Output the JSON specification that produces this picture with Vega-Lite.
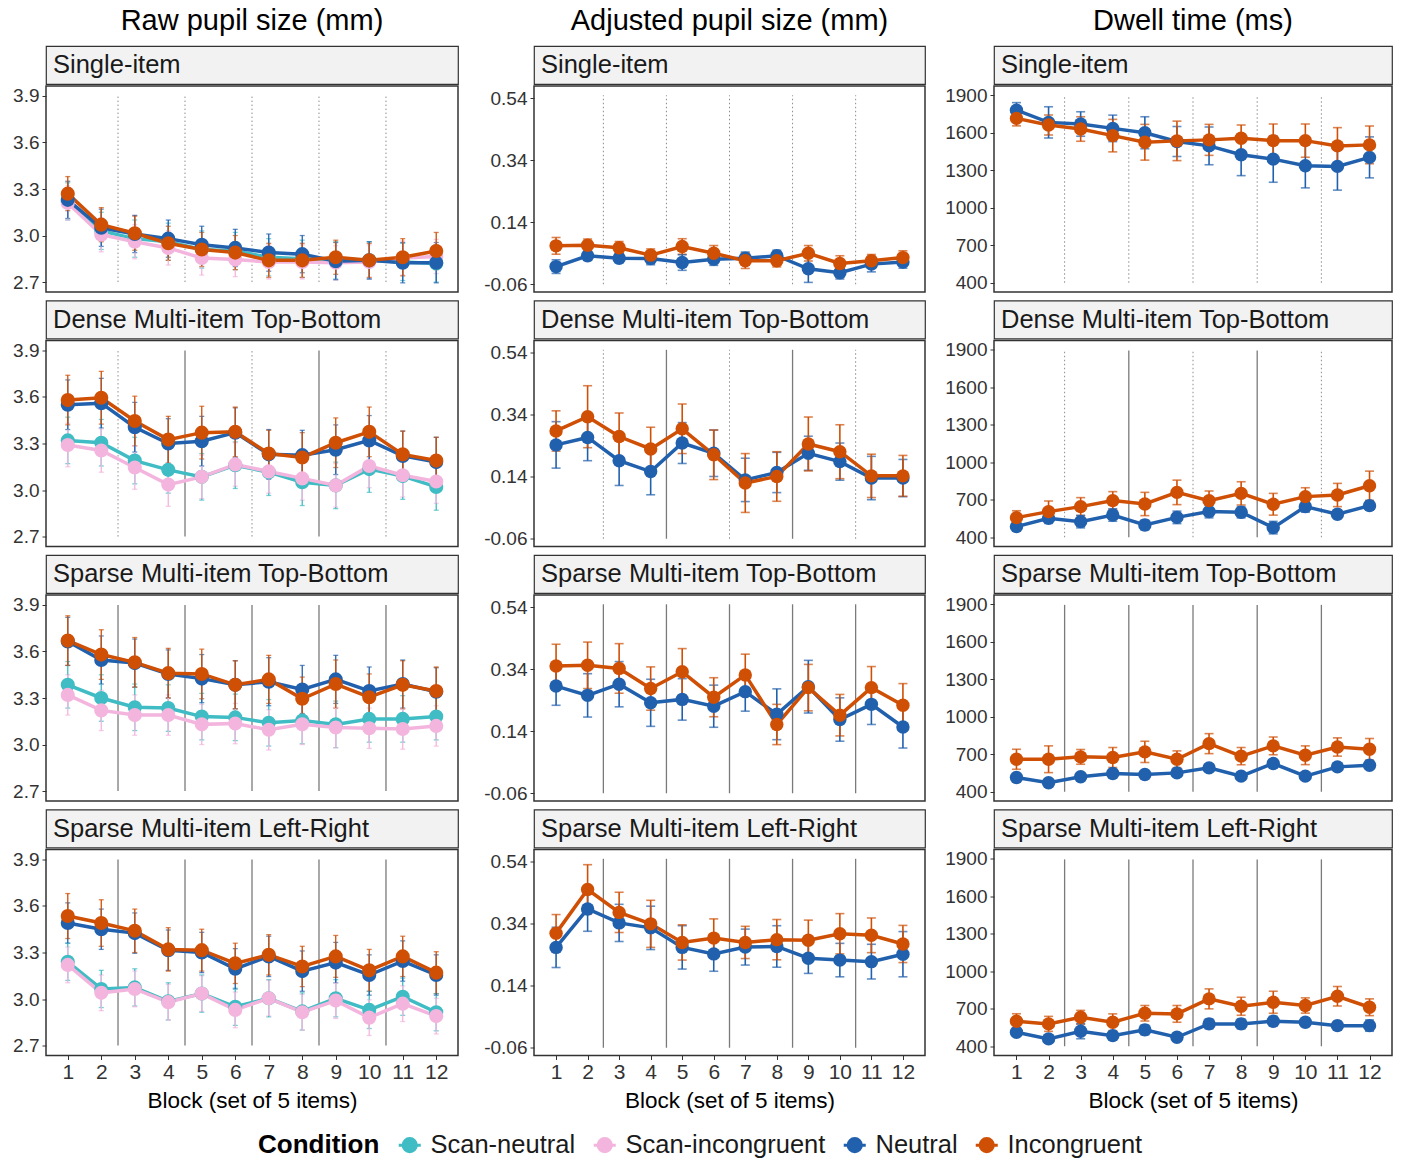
{
"$schema": "https://vega.github.io/schema/vega-lite/v6.json",
"background": "white",
"padding": {"left": 11, "top": 6, "right": 5, "bottom": 0},
"config": {
 "font": "Liberation Sans",
 "view": {"stroke": "#333333", "strokeWidth": 1.5},
 "axis": {"domain": false, "grid": false, "tickColor": "#333333", "tickSize": 4, "labelColor": "#333333", "labelPadding": 3, "titleFontSize": 22.5, "titleFontWeight": "normal", "titleColor": "#000000"},
 "axisY": {"labelFontSize": 19},
 "axisX": {"labelFontSize": 21, "labelPadding": 2},
 "legend": {"direction": "horizontal", "titleOrient": "left", "titleFontSize": 26, "titleFontWeight": "bold", "titleColor": "#000000", "labelFontSize": 25.5, "labelColor": "#1a1a1a", "labelLimit": 0, "symbolType": "M-1,0L1,0M0.6,0A0.6,0.6,0,1,1,-0.6,0A0.6,0.6,0,1,1,0.6,0Z", "symbolSize": 484, "symbolStrokeWidth": 3, "symbolOpacity": 1, "labelOffset": 8, "columnPadding": 11, "titlePadding": 17}
},
"datasets": {
 "vl": [
  {"t":"S","b":2.5,"k":"dot"},{"t":"S","b":4.5,"k":"dot"},{"t":"S","b":6.5,"k":"dot"},{"t":"S","b":8.5,"k":"dot"},{"t":"S","b":10.5,"k":"dot"},
  {"t":"D","b":2.5,"k":"dot"},{"t":"D","b":4.5,"k":"solid"},{"t":"D","b":6.5,"k":"dot"},{"t":"D","b":8.5,"k":"solid"},{"t":"D","b":10.5,"k":"dot"},
  {"t":"ST","b":2.5,"k":"solid"},{"t":"ST","b":4.5,"k":"solid"},{"t":"ST","b":6.5,"k":"solid"},{"t":"ST","b":8.5,"k":"solid"},{"t":"ST","b":10.5,"k":"solid"},
  {"t":"SL","b":2.5,"k":"solid"},{"t":"SL","b":4.5,"k":"solid"},{"t":"SL","b":6.5,"k":"solid"},{"t":"SL","b":8.5,"k":"solid"},{"t":"SL","b":10.5,"k":"solid"}
 ],
 "raw_S": [
  {"c":"Scan-neutral","b":1,"v":3.22,"lo":3.10,"hi":3.34},{"c":"Scan-neutral","b":2,"v":3.03,"lo":2.91,"hi":3.15},{"c":"Scan-neutral","b":3,"v":2.98,"lo":2.86,"hi":3.10},{"c":"Scan-neutral","b":4,"v":2.96,"lo":2.84,"hi":3.08},{"c":"Scan-neutral","b":5,"v":2.91,"lo":2.79,"hi":3.03},{"c":"Scan-neutral","b":6,"v":2.90,"lo":2.78,"hi":3.02},{"c":"Scan-neutral","b":7,"v":2.86,"lo":2.74,"hi":2.98},{"c":"Scan-neutral","b":8,"v":2.85,"lo":2.73,"hi":2.97},{"c":"Scan-neutral","b":9,"v":2.84,"lo":2.72,"hi":2.96},{"c":"Scan-neutral","b":10,"v":2.84,"lo":2.72,"hi":2.96},{"c":"Scan-neutral","b":11,"v":2.83,"lo":2.71,"hi":2.95},{"c":"Scan-neutral","b":12,"v":2.82,"lo":2.70,"hi":2.94},
  {"c":"Scan-incongruent","b":1,"v":3.21,"lo":3.10,"hi":3.32},{"c":"Scan-incongruent","b":2,"v":3.005,"lo":2.895,"hi":3.115},{"c":"Scan-incongruent","b":3,"v":2.96,"lo":2.85,"hi":3.07},{"c":"Scan-incongruent","b":4,"v":2.92,"lo":2.81,"hi":3.03},{"c":"Scan-incongruent","b":5,"v":2.855,"lo":2.745,"hi":2.965},{"c":"Scan-incongruent","b":6,"v":2.845,"lo":2.735,"hi":2.955},{"c":"Scan-incongruent","b":7,"v":2.83,"lo":2.72,"hi":2.94},{"c":"Scan-incongruent","b":8,"v":2.83,"lo":2.72,"hi":2.94},{"c":"Scan-incongruent","b":9,"v":2.825,"lo":2.715,"hi":2.935},{"c":"Scan-incongruent","b":10,"v":2.83,"lo":2.72,"hi":2.94},{"c":"Scan-incongruent","b":11,"v":2.855,"lo":2.745,"hi":2.965},{"c":"Scan-incongruent","b":12,"v":2.865,"lo":2.755,"hi":2.975},
  {"c":"Neutral","b":1,"v":3.23,"lo":3.11,"hi":3.35},{"c":"Neutral","b":2,"v":3.05,"lo":2.93,"hi":3.17},{"c":"Neutral","b":3,"v":3.01,"lo":2.89,"hi":3.13},{"c":"Neutral","b":4,"v":2.98,"lo":2.86,"hi":3.10},{"c":"Neutral","b":5,"v":2.94,"lo":2.82,"hi":3.06},{"c":"Neutral","b":6,"v":2.92,"lo":2.80,"hi":3.04},{"c":"Neutral","b":7,"v":2.89,"lo":2.77,"hi":3.01},{"c":"Neutral","b":8,"v":2.88,"lo":2.76,"hi":3.00},{"c":"Neutral","b":9,"v":2.835,"lo":2.715,"hi":2.955},{"c":"Neutral","b":10,"v":2.84,"lo":2.72,"hi":2.96},{"c":"Neutral","b":11,"v":2.825,"lo":2.695,"hi":2.955},{"c":"Neutral","b":12,"v":2.825,"lo":2.695,"hi":2.955},
  {"c":"Incongruent","b":1,"v":3.27,"lo":3.16,"hi":3.38},{"c":"Incongruent","b":2,"v":3.07,"lo":2.96,"hi":3.18},{"c":"Incongruent","b":3,"v":3.015,"lo":2.905,"hi":3.125},{"c":"Incongruent","b":4,"v":2.95,"lo":2.84,"hi":3.06},{"c":"Incongruent","b":5,"v":2.91,"lo":2.80,"hi":3.02},{"c":"Incongruent","b":6,"v":2.89,"lo":2.78,"hi":3.00},{"c":"Incongruent","b":7,"v":2.84,"lo":2.73,"hi":2.95},{"c":"Incongruent","b":8,"v":2.84,"lo":2.73,"hi":2.95},{"c":"Incongruent","b":9,"v":2.86,"lo":2.75,"hi":2.97},{"c":"Incongruent","b":10,"v":2.84,"lo":2.73,"hi":2.95},{"c":"Incongruent","b":11,"v":2.86,"lo":2.74,"hi":2.98},{"c":"Incongruent","b":12,"v":2.90,"lo":2.78,"hi":3.02}
 ],
 "raw_D": [
  {"c":"Scan-neutral","b":1,"v":3.32,"lo":3.17,"hi":3.47},{"c":"Scan-neutral","b":2,"v":3.305,"lo":3.155,"hi":3.455},{"c":"Scan-neutral","b":3,"v":3.19,"lo":3.04,"hi":3.34},{"c":"Scan-neutral","b":4,"v":3.13,"lo":2.98,"hi":3.28},{"c":"Scan-neutral","b":5,"v":3.085,"lo":2.935,"hi":3.235},{"c":"Scan-neutral","b":6,"v":3.16,"lo":3.01,"hi":3.31},{"c":"Scan-neutral","b":7,"v":3.115,"lo":2.965,"hi":3.265},{"c":"Scan-neutral","b":8,"v":3.05,"lo":2.90,"hi":3.20},{"c":"Scan-neutral","b":9,"v":3.03,"lo":2.88,"hi":3.18},{"c":"Scan-neutral","b":10,"v":3.135,"lo":2.985,"hi":3.285},{"c":"Scan-neutral","b":11,"v":3.09,"lo":2.94,"hi":3.24},{"c":"Scan-neutral","b":12,"v":3.02,"lo":2.87,"hi":3.17},
  {"c":"Scan-incongruent","b":1,"v":3.29,"lo":3.15,"hi":3.43},{"c":"Scan-incongruent","b":2,"v":3.255,"lo":3.115,"hi":3.395},{"c":"Scan-incongruent","b":3,"v":3.145,"lo":3.005,"hi":3.285},{"c":"Scan-incongruent","b":4,"v":3.035,"lo":2.895,"hi":3.175},{"c":"Scan-incongruent","b":5,"v":3.085,"lo":2.945,"hi":3.225},{"c":"Scan-incongruent","b":6,"v":3.165,"lo":3.025,"hi":3.305},{"c":"Scan-incongruent","b":7,"v":3.12,"lo":2.98,"hi":3.26},{"c":"Scan-incongruent","b":8,"v":3.075,"lo":2.935,"hi":3.215},{"c":"Scan-incongruent","b":9,"v":3.03,"lo":2.89,"hi":3.17},{"c":"Scan-incongruent","b":10,"v":3.155,"lo":3.015,"hi":3.295},{"c":"Scan-incongruent","b":11,"v":3.095,"lo":2.955,"hi":3.235},{"c":"Scan-incongruent","b":12,"v":3.055,"lo":2.915,"hi":3.195},
  {"c":"Neutral","b":1,"v":3.55,"lo":3.39,"hi":3.71},{"c":"Neutral","b":2,"v":3.56,"lo":3.40,"hi":3.72},{"c":"Neutral","b":3,"v":3.405,"lo":3.245,"hi":3.565},{"c":"Neutral","b":4,"v":3.30,"lo":3.14,"hi":3.46},{"c":"Neutral","b":5,"v":3.315,"lo":3.155,"hi":3.475},{"c":"Neutral","b":6,"v":3.37,"lo":3.21,"hi":3.53},{"c":"Neutral","b":7,"v":3.23,"lo":3.07,"hi":3.39},{"c":"Neutral","b":8,"v":3.225,"lo":3.065,"hi":3.385},{"c":"Neutral","b":9,"v":3.26,"lo":3.10,"hi":3.42},{"c":"Neutral","b":10,"v":3.32,"lo":3.16,"hi":3.48},{"c":"Neutral","b":11,"v":3.22,"lo":3.06,"hi":3.38},{"c":"Neutral","b":12,"v":3.18,"lo":3.02,"hi":3.34},
  {"c":"Incongruent","b":1,"v":3.58,"lo":3.42,"hi":3.74},{"c":"Incongruent","b":2,"v":3.595,"lo":3.425,"hi":3.765},{"c":"Incongruent","b":3,"v":3.445,"lo":3.285,"hi":3.605},{"c":"Incongruent","b":4,"v":3.325,"lo":3.175,"hi":3.475},{"c":"Incongruent","b":5,"v":3.37,"lo":3.20,"hi":3.54},{"c":"Incongruent","b":6,"v":3.375,"lo":3.215,"hi":3.535},{"c":"Incongruent","b":7,"v":3.235,"lo":3.085,"hi":3.385},{"c":"Incongruent","b":8,"v":3.21,"lo":3.05,"hi":3.37},{"c":"Incongruent","b":9,"v":3.305,"lo":3.145,"hi":3.465},{"c":"Incongruent","b":10,"v":3.375,"lo":3.215,"hi":3.535},{"c":"Incongruent","b":11,"v":3.23,"lo":3.08,"hi":3.38},{"c":"Incongruent","b":12,"v":3.19,"lo":3.04,"hi":3.34}
 ],
 "raw_ST": [
  {"c":"Scan-neutral","b":1,"v":3.385,"lo":3.235,"hi":3.535},{"c":"Scan-neutral","b":2,"v":3.30,"lo":3.15,"hi":3.45},{"c":"Scan-neutral","b":3,"v":3.24,"lo":3.09,"hi":3.39},{"c":"Scan-neutral","b":4,"v":3.235,"lo":3.085,"hi":3.385},{"c":"Scan-neutral","b":5,"v":3.18,"lo":3.03,"hi":3.33},{"c":"Scan-neutral","b":6,"v":3.175,"lo":3.025,"hi":3.325},{"c":"Scan-neutral","b":7,"v":3.14,"lo":2.99,"hi":3.29},{"c":"Scan-neutral","b":8,"v":3.155,"lo":3.005,"hi":3.305},{"c":"Scan-neutral","b":9,"v":3.13,"lo":2.98,"hi":3.28},{"c":"Scan-neutral","b":10,"v":3.165,"lo":3.015,"hi":3.315},{"c":"Scan-neutral","b":11,"v":3.165,"lo":3.015,"hi":3.315},{"c":"Scan-neutral","b":12,"v":3.18,"lo":3.03,"hi":3.33},
  {"c":"Scan-incongruent","b":1,"v":3.32,"lo":3.19,"hi":3.45},{"c":"Scan-incongruent","b":2,"v":3.22,"lo":3.09,"hi":3.35},{"c":"Scan-incongruent","b":3,"v":3.19,"lo":3.06,"hi":3.32},{"c":"Scan-incongruent","b":4,"v":3.19,"lo":3.06,"hi":3.32},{"c":"Scan-incongruent","b":5,"v":3.13,"lo":3.00,"hi":3.26},{"c":"Scan-incongruent","b":6,"v":3.135,"lo":3.005,"hi":3.265},{"c":"Scan-incongruent","b":7,"v":3.095,"lo":2.965,"hi":3.225},{"c":"Scan-incongruent","b":8,"v":3.13,"lo":3.00,"hi":3.26},{"c":"Scan-incongruent","b":9,"v":3.11,"lo":2.98,"hi":3.24},{"c":"Scan-incongruent","b":10,"v":3.105,"lo":2.975,"hi":3.235},{"c":"Scan-incongruent","b":11,"v":3.10,"lo":2.97,"hi":3.23},{"c":"Scan-incongruent","b":12,"v":3.12,"lo":2.99,"hi":3.25},
  {"c":"Neutral","b":1,"v":3.665,"lo":3.51,"hi":3.82},{"c":"Neutral","b":2,"v":3.545,"lo":3.39,"hi":3.70},{"c":"Neutral","b":3,"v":3.525,"lo":3.37,"hi":3.68},{"c":"Neutral","b":4,"v":3.455,"lo":3.30,"hi":3.61},{"c":"Neutral","b":5,"v":3.425,"lo":3.27,"hi":3.58},{"c":"Neutral","b":6,"v":3.385,"lo":3.23,"hi":3.54},{"c":"Neutral","b":7,"v":3.405,"lo":3.25,"hi":3.56},{"c":"Neutral","b":8,"v":3.355,"lo":3.20,"hi":3.51},{"c":"Neutral","b":9,"v":3.42,"lo":3.265,"hi":3.575},{"c":"Neutral","b":10,"v":3.345,"lo":3.19,"hi":3.50},{"c":"Neutral","b":11,"v":3.39,"lo":3.235,"hi":3.545},{"c":"Neutral","b":12,"v":3.34,"lo":3.185,"hi":3.495},
  {"c":"Incongruent","b":1,"v":3.67,"lo":3.51,"hi":3.83},{"c":"Incongruent","b":2,"v":3.58,"lo":3.42,"hi":3.74},{"c":"Incongruent","b":3,"v":3.53,"lo":3.37,"hi":3.69},{"c":"Incongruent","b":4,"v":3.46,"lo":3.30,"hi":3.62},{"c":"Incongruent","b":5,"v":3.455,"lo":3.295,"hi":3.615},{"c":"Incongruent","b":6,"v":3.385,"lo":3.23,"hi":3.54},{"c":"Incongruent","b":7,"v":3.42,"lo":3.265,"hi":3.575},{"c":"Incongruent","b":8,"v":3.295,"lo":3.155,"hi":3.435},{"c":"Incongruent","b":9,"v":3.39,"lo":3.235,"hi":3.545},{"c":"Incongruent","b":10,"v":3.305,"lo":3.155,"hi":3.455},{"c":"Incongruent","b":11,"v":3.385,"lo":3.23,"hi":3.54},{"c":"Incongruent","b":12,"v":3.345,"lo":3.19,"hi":3.50}
 ],
 "raw_SL": [
  {"c":"Scan-neutral","b":1,"v":3.24,"lo":3.12,"hi":3.36},{"c":"Scan-neutral","b":2,"v":3.065,"lo":2.945,"hi":3.185},{"c":"Scan-neutral","b":3,"v":3.075,"lo":2.955,"hi":3.195},{"c":"Scan-neutral","b":4,"v":2.985,"lo":2.865,"hi":3.105},{"c":"Scan-neutral","b":5,"v":3.035,"lo":2.915,"hi":3.155},{"c":"Scan-neutral","b":6,"v":2.95,"lo":2.83,"hi":3.07},{"c":"Scan-neutral","b":7,"v":3.005,"lo":2.885,"hi":3.125},{"c":"Scan-neutral","b":8,"v":2.92,"lo":2.80,"hi":3.04},{"c":"Scan-neutral","b":9,"v":3.005,"lo":2.885,"hi":3.125},{"c":"Scan-neutral","b":10,"v":2.93,"lo":2.81,"hi":3.05},{"c":"Scan-neutral","b":11,"v":3.015,"lo":2.895,"hi":3.135},{"c":"Scan-neutral","b":12,"v":2.915,"lo":2.795,"hi":3.035},
  {"c":"Scan-incongruent","b":1,"v":3.22,"lo":3.105,"hi":3.335},{"c":"Scan-incongruent","b":2,"v":3.04,"lo":2.925,"hi":3.155},{"c":"Scan-incongruent","b":3,"v":3.065,"lo":2.95,"hi":3.18},{"c":"Scan-incongruent","b":4,"v":2.98,"lo":2.865,"hi":3.095},{"c":"Scan-incongruent","b":5,"v":3.035,"lo":2.92,"hi":3.15},{"c":"Scan-incongruent","b":6,"v":2.93,"lo":2.815,"hi":3.045},{"c":"Scan-incongruent","b":7,"v":3.005,"lo":2.89,"hi":3.12},{"c":"Scan-incongruent","b":8,"v":2.915,"lo":2.80,"hi":3.03},{"c":"Scan-incongruent","b":9,"v":2.99,"lo":2.875,"hi":3.105},{"c":"Scan-incongruent","b":10,"v":2.88,"lo":2.765,"hi":2.995},{"c":"Scan-incongruent","b":11,"v":2.97,"lo":2.855,"hi":3.085},{"c":"Scan-incongruent","b":12,"v":2.89,"lo":2.775,"hi":3.005},
  {"c":"Neutral","b":1,"v":3.49,"lo":3.36,"hi":3.62},{"c":"Neutral","b":2,"v":3.45,"lo":3.32,"hi":3.58},{"c":"Neutral","b":3,"v":3.425,"lo":3.295,"hi":3.555},{"c":"Neutral","b":4,"v":3.315,"lo":3.185,"hi":3.445},{"c":"Neutral","b":5,"v":3.30,"lo":3.17,"hi":3.43},{"c":"Neutral","b":6,"v":3.195,"lo":3.065,"hi":3.325},{"c":"Neutral","b":7,"v":3.275,"lo":3.145,"hi":3.405},{"c":"Neutral","b":8,"v":3.18,"lo":3.05,"hi":3.31},{"c":"Neutral","b":9,"v":3.235,"lo":3.105,"hi":3.365},{"c":"Neutral","b":10,"v":3.155,"lo":3.025,"hi":3.285},{"c":"Neutral","b":11,"v":3.245,"lo":3.115,"hi":3.375},{"c":"Neutral","b":12,"v":3.155,"lo":3.025,"hi":3.285},
  {"c":"Incongruent","b":1,"v":3.535,"lo":3.39,"hi":3.68},{"c":"Incongruent","b":2,"v":3.49,"lo":3.34,"hi":3.64},{"c":"Incongruent","b":3,"v":3.44,"lo":3.30,"hi":3.58},{"c":"Incongruent","b":4,"v":3.32,"lo":3.18,"hi":3.46},{"c":"Incongruent","b":5,"v":3.315,"lo":3.18,"hi":3.45},{"c":"Incongruent","b":6,"v":3.23,"lo":3.10,"hi":3.36},{"c":"Incongruent","b":7,"v":3.285,"lo":3.155,"hi":3.415},{"c":"Incongruent","b":8,"v":3.21,"lo":3.08,"hi":3.34},{"c":"Incongruent","b":9,"v":3.275,"lo":3.14,"hi":3.41},{"c":"Incongruent","b":10,"v":3.185,"lo":3.05,"hi":3.32},{"c":"Incongruent","b":11,"v":3.275,"lo":3.145,"hi":3.405},{"c":"Incongruent","b":12,"v":3.17,"lo":3.035,"hi":3.305}
 ],
 "adj_S": [
  {"c":"Neutral","b":1,"v":-0.003,"lo":-0.025,"hi":0.019},{"c":"Neutral","b":2,"v":0.032,"lo":0.017,"hi":0.047},{"c":"Neutral","b":3,"v":0.024,"lo":0.009,"hi":0.039},{"c":"Neutral","b":4,"v":0.023,"lo":0.003,"hi":0.043},{"c":"Neutral","b":5,"v":0.010,"lo":-0.015,"hi":0.035},{"c":"Neutral","b":6,"v":0.021,"lo":0.001,"hi":0.041},{"c":"Neutral","b":7,"v":0.024,"lo":0.004,"hi":0.044},{"c":"Neutral","b":8,"v":0.032,"lo":0.014,"hi":0.050},{"c":"Neutral","b":9,"v":-0.010,"lo":-0.054,"hi":0.034},{"c":"Neutral","b":10,"v":-0.023,"lo":-0.043,"hi":-0.003},{"c":"Neutral","b":11,"v":0.005,"lo":-0.020,"hi":0.030},{"c":"Neutral","b":12,"v":0.012,"lo":-0.008,"hi":0.032},
  {"c":"Incongruent","b":1,"v":0.064,"lo":0.037,"hi":0.091},{"c":"Incongruent","b":2,"v":0.066,"lo":0.046,"hi":0.086},{"c":"Incongruent","b":3,"v":0.058,"lo":0.038,"hi":0.078},{"c":"Incongruent","b":4,"v":0.034,"lo":0.014,"hi":0.054},{"c":"Incongruent","b":5,"v":0.062,"lo":0.037,"hi":0.087},{"c":"Incongruent","b":6,"v":0.040,"lo":0.015,"hi":0.065},{"c":"Incongruent","b":7,"v":0.016,"lo":-0.009,"hi":0.041},{"c":"Incongruent","b":8,"v":0.016,"lo":-0.004,"hi":0.036},{"c":"Incongruent","b":9,"v":0.040,"lo":0.015,"hi":0.065},{"c":"Incongruent","b":10,"v":0.007,"lo":-0.018,"hi":0.032},{"c":"Incongruent","b":11,"v":0.016,"lo":-0.004,"hi":0.036},{"c":"Incongruent","b":12,"v":0.026,"lo":0.004,"hi":0.048}
 ],
 "adj_D": [
  {"c":"Neutral","b":1,"v":0.243,"lo":0.168,"hi":0.318},{"c":"Neutral","b":2,"v":0.267,"lo":0.192,"hi":0.342},{"c":"Neutral","b":3,"v":0.192,"lo":0.112,"hi":0.272},{"c":"Neutral","b":4,"v":0.157,"lo":0.082,"hi":0.232},{"c":"Neutral","b":5,"v":0.249,"lo":0.183,"hi":0.315},{"c":"Neutral","b":6,"v":0.216,"lo":0.141,"hi":0.291},{"c":"Neutral","b":7,"v":0.130,"lo":0.060,"hi":0.200},{"c":"Neutral","b":8,"v":0.154,"lo":0.089,"hi":0.219},{"c":"Neutral","b":9,"v":0.216,"lo":0.161,"hi":0.271},{"c":"Neutral","b":10,"v":0.189,"lo":0.129,"hi":0.249},{"c":"Neutral","b":11,"v":0.136,"lo":0.066,"hi":0.206},{"c":"Neutral","b":12,"v":0.136,"lo":0.076,"hi":0.196},
  {"c":"Incongruent","b":1,"v":0.288,"lo":0.223,"hi":0.353},{"c":"Incongruent","b":2,"v":0.334,"lo":0.234,"hi":0.434},{"c":"Incongruent","b":3,"v":0.270,"lo":0.194,"hi":0.346},{"c":"Incongruent","b":4,"v":0.230,"lo":0.160,"hi":0.300},{"c":"Incongruent","b":5,"v":0.295,"lo":0.215,"hi":0.375},{"c":"Incongruent","b":6,"v":0.211,"lo":0.131,"hi":0.291},{"c":"Incongruent","b":7,"v":0.120,"lo":0.025,"hi":0.215},{"c":"Incongruent","b":8,"v":0.141,"lo":0.061,"hi":0.221},{"c":"Incongruent","b":9,"v":0.246,"lo":0.159,"hi":0.333},{"c":"Incongruent","b":10,"v":0.221,"lo":0.134,"hi":0.308},{"c":"Incongruent","b":11,"v":0.143,"lo":0.073,"hi":0.213},{"c":"Incongruent","b":12,"v":0.143,"lo":0.077,"hi":0.209}
 ],
 "adj_ST": [
  {"c":"Neutral","b":1,"v":0.286,"lo":0.224,"hi":0.348},{"c":"Neutral","b":2,"v":0.256,"lo":0.186,"hi":0.326},{"c":"Neutral","b":3,"v":0.292,"lo":0.219,"hi":0.365},{"c":"Neutral","b":4,"v":0.232,"lo":0.156,"hi":0.308},{"c":"Neutral","b":5,"v":0.243,"lo":0.176,"hi":0.310},{"c":"Neutral","b":6,"v":0.221,"lo":0.153,"hi":0.289},{"c":"Neutral","b":7,"v":0.268,"lo":0.205,"hi":0.331},{"c":"Neutral","b":8,"v":0.195,"lo":0.113,"hi":0.277},{"c":"Neutral","b":9,"v":0.284,"lo":0.199,"hi":0.369},{"c":"Neutral","b":10,"v":0.178,"lo":0.108,"hi":0.248},{"c":"Neutral","b":11,"v":0.227,"lo":0.162,"hi":0.292},{"c":"Neutral","b":12,"v":0.154,"lo":0.086,"hi":0.222},
  {"c":"Incongruent","b":1,"v":0.351,"lo":0.281,"hi":0.421},{"c":"Incongruent","b":2,"v":0.353,"lo":0.278,"hi":0.428},{"c":"Incongruent","b":3,"v":0.343,"lo":0.263,"hi":0.423},{"c":"Incongruent","b":4,"v":0.278,"lo":0.208,"hi":0.348},{"c":"Incongruent","b":5,"v":0.332,"lo":0.257,"hi":0.407},{"c":"Incongruent","b":6,"v":0.250,"lo":0.187,"hi":0.313},{"c":"Incongruent","b":7,"v":0.322,"lo":0.255,"hi":0.389},{"c":"Incongruent","b":8,"v":0.162,"lo":0.097,"hi":0.227},{"c":"Incongruent","b":9,"v":0.281,"lo":0.206,"hi":0.356},{"c":"Incongruent","b":10,"v":0.192,"lo":0.125,"hi":0.259},{"c":"Incongruent","b":11,"v":0.281,"lo":0.213,"hi":0.349},{"c":"Incongruent","b":12,"v":0.224,"lo":0.154,"hi":0.294}
 ],
 "adj_SL": [
  {"c":"Neutral","b":1,"v":0.264,"lo":0.199,"hi":0.329},{"c":"Neutral","b":2,"v":0.388,"lo":0.316,"hi":0.460},{"c":"Neutral","b":3,"v":0.343,"lo":0.283,"hi":0.403},{"c":"Neutral","b":4,"v":0.327,"lo":0.257,"hi":0.397},{"c":"Neutral","b":5,"v":0.264,"lo":0.194,"hi":0.334},{"c":"Neutral","b":6,"v":0.243,"lo":0.187,"hi":0.299},{"c":"Neutral","b":7,"v":0.265,"lo":0.207,"hi":0.323},{"c":"Neutral","b":8,"v":0.267,"lo":0.200,"hi":0.334},{"c":"Neutral","b":9,"v":0.229,"lo":0.180,"hi":0.278},{"c":"Neutral","b":10,"v":0.223,"lo":0.169,"hi":0.277},{"c":"Neutral","b":11,"v":0.218,"lo":0.162,"hi":0.274},{"c":"Neutral","b":12,"v":0.242,"lo":0.169,"hi":0.315},
  {"c":"Incongruent","b":1,"v":0.310,"lo":0.250,"hi":0.370},{"c":"Incongruent","b":2,"v":0.451,"lo":0.371,"hi":0.531},{"c":"Incongruent","b":3,"v":0.377,"lo":0.312,"hi":0.442},{"c":"Incongruent","b":4,"v":0.340,"lo":0.264,"hi":0.416},{"c":"Incongruent","b":5,"v":0.280,"lo":0.223,"hi":0.337},{"c":"Incongruent","b":6,"v":0.294,"lo":0.232,"hi":0.356},{"c":"Incongruent","b":7,"v":0.280,"lo":0.228,"hi":0.332},{"c":"Incongruent","b":8,"v":0.289,"lo":0.224,"hi":0.354},{"c":"Incongruent","b":9,"v":0.287,"lo":0.222,"hi":0.352},{"c":"Incongruent","b":10,"v":0.308,"lo":0.243,"hi":0.373},{"c":"Incongruent","b":11,"v":0.303,"lo":0.247,"hi":0.359},{"c":"Incongruent","b":12,"v":0.275,"lo":0.215,"hi":0.335}
 ],
 "dw_S": [
  {"c":"Neutral","b":1,"v":1781,"lo":1721,"hi":1841},{"c":"Neutral","b":2,"v":1683,"lo":1558,"hi":1808},{"c":"Neutral","b":3,"v":1670,"lo":1572,"hi":1768},{"c":"Neutral","b":4,"v":1635,"lo":1529,"hi":1741},{"c":"Neutral","b":5,"v":1600,"lo":1472,"hi":1728},{"c":"Neutral","b":6,"v":1530,"lo":1410,"hi":1650},{"c":"Neutral","b":7,"v":1495,"lo":1344,"hi":1646},{"c":"Neutral","b":8,"v":1424,"lo":1257,"hi":1591},{"c":"Neutral","b":9,"v":1389,"lo":1204,"hi":1574},{"c":"Neutral","b":10,"v":1336,"lo":1159,"hi":1513},{"c":"Neutral","b":11,"v":1331,"lo":1141,"hi":1521},{"c":"Neutral","b":12,"v":1403,"lo":1239,"hi":1567},
  {"c":"Incongruent","b":1,"v":1715,"lo":1655,"hi":1775},{"c":"Incongruent","b":2,"v":1662,"lo":1582,"hi":1742},{"c":"Incongruent","b":3,"v":1630,"lo":1532,"hi":1728},{"c":"Incongruent","b":4,"v":1577,"lo":1447,"hi":1707},{"c":"Incongruent","b":5,"v":1524,"lo":1381,"hi":1667},{"c":"Incongruent","b":6,"v":1535,"lo":1377,"hi":1693},{"c":"Incongruent","b":7,"v":1543,"lo":1419,"hi":1667},{"c":"Incongruent","b":8,"v":1556,"lo":1450,"hi":1662},{"c":"Incongruent","b":9,"v":1537,"lo":1404,"hi":1670},{"c":"Incongruent","b":10,"v":1537,"lo":1404,"hi":1670},{"c":"Incongruent","b":11,"v":1495,"lo":1349,"hi":1641},{"c":"Incongruent","b":12,"v":1503,"lo":1352,"hi":1654}
 ],
 "dw_D": [
  {"c":"Neutral","b":1,"v":485,"lo":455,"hi":515},{"c":"Neutral","b":2,"v":551,"lo":511,"hi":591},{"c":"Neutral","b":3,"v":525,"lo":475,"hi":575},{"c":"Neutral","b":4,"v":578,"lo":528,"hi":628},{"c":"Neutral","b":5,"v":498,"lo":458,"hi":538},{"c":"Neutral","b":6,"v":559,"lo":509,"hi":609},{"c":"Neutral","b":7,"v":605,"lo":555,"hi":655},{"c":"Neutral","b":8,"v":600,"lo":555,"hi":645},{"c":"Neutral","b":9,"v":477,"lo":427,"hi":527},{"c":"Neutral","b":10,"v":645,"lo":600,"hi":690},{"c":"Neutral","b":11,"v":584,"lo":549,"hi":619},{"c":"Neutral","b":12,"v":653,"lo":618,"hi":688},
  {"c":"Incongruent","b":1,"v":557,"lo":502,"hi":612},{"c":"Incongruent","b":2,"v":605,"lo":520,"hi":690},{"c":"Incongruent","b":3,"v":645,"lo":573,"hi":717},{"c":"Incongruent","b":4,"v":693,"lo":621,"hi":765},{"c":"Incongruent","b":5,"v":666,"lo":573,"hi":759},{"c":"Incongruent","b":6,"v":759,"lo":661,"hi":857},{"c":"Incongruent","b":7,"v":693,"lo":616,"hi":770},{"c":"Incongruent","b":8,"v":751,"lo":658,"hi":844},{"c":"Incongruent","b":9,"v":664,"lo":577,"hi":751},{"c":"Incongruent","b":10,"v":725,"lo":654,"hi":796},{"c":"Incongruent","b":11,"v":738,"lo":645,"hi":831},{"c":"Incongruent","b":12,"v":812,"lo":695,"hi":929}
 ],
 "dw_ST": [
  {"c":"Neutral","b":1,"v":514,"lo":489,"hi":539},{"c":"Neutral","b":2,"v":472,"lo":447,"hi":497},{"c":"Neutral","b":3,"v":520,"lo":495,"hi":545},{"c":"Neutral","b":4,"v":546,"lo":521,"hi":571},{"c":"Neutral","b":5,"v":538,"lo":513,"hi":563},{"c":"Neutral","b":6,"v":551,"lo":526,"hi":576},{"c":"Neutral","b":7,"v":591,"lo":566,"hi":616},{"c":"Neutral","b":8,"v":525,"lo":500,"hi":550},{"c":"Neutral","b":9,"v":626,"lo":601,"hi":651},{"c":"Neutral","b":10,"v":525,"lo":500,"hi":550},{"c":"Neutral","b":11,"v":599,"lo":574,"hi":624},{"c":"Neutral","b":12,"v":612,"lo":587,"hi":637},
  {"c":"Incongruent","b":1,"v":660,"lo":580,"hi":740},{"c":"Incongruent","b":2,"v":660,"lo":553,"hi":767},{"c":"Incongruent","b":3,"v":679,"lo":620,"hi":738},{"c":"Incongruent","b":4,"v":674,"lo":594,"hi":754},{"c":"Incongruent","b":5,"v":719,"lo":634,"hi":804},{"c":"Incongruent","b":6,"v":660,"lo":593,"hi":727},{"c":"Incongruent","b":7,"v":785,"lo":705,"hi":865},{"c":"Incongruent","b":8,"v":685,"lo":616,"hi":754},{"c":"Incongruent","b":9,"v":767,"lo":696,"hi":838},{"c":"Incongruent","b":10,"v":692,"lo":617,"hi":767},{"c":"Incongruent","b":11,"v":758,"lo":685,"hi":831},{"c":"Incongruent","b":12,"v":740,"lo":654,"hi":826}
 ],
 "dw_SL": [
  {"c":"Neutral","b":1,"v":512,"lo":482,"hi":542},{"c":"Neutral","b":2,"v":459,"lo":429,"hi":489},{"c":"Neutral","b":3,"v":520,"lo":460,"hi":580},{"c":"Neutral","b":4,"v":485,"lo":455,"hi":515},{"c":"Neutral","b":5,"v":531,"lo":491,"hi":571},{"c":"Neutral","b":6,"v":472,"lo":442,"hi":502},{"c":"Neutral","b":7,"v":579,"lo":539,"hi":619},{"c":"Neutral","b":8,"v":579,"lo":539,"hi":619},{"c":"Neutral","b":9,"v":600,"lo":560,"hi":640},{"c":"Neutral","b":10,"v":592,"lo":557,"hi":627},{"c":"Neutral","b":11,"v":565,"lo":530,"hi":600},{"c":"Neutral","b":12,"v":565,"lo":520,"hi":610},
  {"c":"Incongruent","b":1,"v":600,"lo":540,"hi":660},{"c":"Incongruent","b":2,"v":579,"lo":519,"hi":639},{"c":"Incongruent","b":3,"v":632,"lo":577,"hi":687},{"c":"Incongruent","b":4,"v":592,"lo":525,"hi":659},{"c":"Incongruent","b":5,"v":664,"lo":602,"hi":726},{"c":"Incongruent","b":6,"v":659,"lo":592,"hi":726},{"c":"Incongruent","b":7,"v":779,"lo":699,"hi":859},{"c":"Incongruent","b":8,"v":720,"lo":648,"hi":792},{"c":"Incongruent","b":9,"v":752,"lo":664,"hi":840},{"c":"Incongruent","b":10,"v":726,"lo":665,"hi":787},{"c":"Incongruent","b":11,"v":800,"lo":722,"hi":878},{"c":"Incongruent","b":12,"v":712,"lo":645,"hi":779}
 ]
},
"spacing": 3.5,
"vconcat": [
 {"spacing": 23, "hconcat": [
  {"vconcat": [
   {"width": 412, "height": 38, "title": {"text": "Raw pupil size (mm)", "fontSize": 29, "fontWeight": "normal", "anchor": "middle", "offset": 10, "color": "#000000"}, "view": {"fill": "#f2f2f2", "stroke": "#333333", "strokeWidth": 1.2}, "data": {"values": [{"lab": "Single-item"}]}, "mark": {"type": "text", "align": "left", "baseline": "middle", "fontSize": 25.5, "color": "#1a1a1a"}, "encoding": {"text": {"field": "lab"}, "x": {"value": 7}, "y": {"value": 19}}},
   {"width": 412, "height": 206,
    "encoding": {"x": {"field": "b", "type": "quantitative", "scale": {"domain": [0.35, 12.65], "nice": false, "zero": false}, "axis": null}},
    "layer": [
     {"data": {"name": "vl"}, "transform": [{"filter": "datum.t=='S' && datum.k=='dot'"}], "mark": {"type": "rule", "color": "#8c8c8c", "strokeWidth": 1, "strokeDash": [1.5, 2.5]}, "encoding": {"y": {"datum": 2.7, "type": "quantitative", "scale": {"domain": [2.636, 3.964], "nice": false, "zero": false}}, "y2": {"datum": 3.9}}},
     {"data": {"name": "raw_S"}, "mark": {"type": "errorbar", "ticks": {"size": 5}, "thickness": 1.3}, "encoding": {"y": {"field": "lo", "type": "quantitative", "scale": {"domain": [2.636, 3.964], "nice": false, "zero": false}, "axis": {"title": null, "values": [2.7, 3.0, 3.3, 3.6, 3.9], "format": ".1f"}}, "y2": {"field": "hi"}, "color": {"field": "c", "type": "nominal", "title": "Condition", "scale": {"domain": ["Scan-neutral", "Scan-incongruent", "Neutral", "Incongruent"], "range": ["#3fbcc4", "#f3b5dd", "#2160ad", "#cf4f05"]}, "legend": {"orient": "none", "direction": "horizontal", "legendX": 212, "legendY": 1086}}}},
     {"data": {"name": "raw_S"}, "mark": {"type": "line", "strokeWidth": 3.5}, "encoding": {"y": {"field": "v", "type": "quantitative", "scale": {"domain": [2.636, 3.964], "nice": false, "zero": false}, "axis": {"title": null}}, "color": {"field": "c", "type": "nominal", "title": "Condition", "scale": {"domain": ["Scan-neutral", "Scan-incongruent", "Neutral", "Incongruent"], "range": ["#3fbcc4", "#f3b5dd", "#2160ad", "#cf4f05"]}}}},
     {"data": {"name": "raw_S"}, "mark": {"type": "circle", "size": 200, "opacity": 1}, "encoding": {"y": {"field": "v", "type": "quantitative", "scale": {"domain": [2.636, 3.964], "nice": false, "zero": false}, "axis": {"title": null}}, "color": {"field": "c", "type": "nominal", "title": "Condition", "scale": {"domain": ["Scan-neutral", "Scan-incongruent", "Neutral", "Incongruent"], "range": ["#3fbcc4", "#f3b5dd", "#2160ad", "#cf4f05"]}}}}
    ]}
  ], "spacing": 0},
  {"spacing": 17, "hconcat": [
   {"vconcat": [
    {"width": 391, "height": 38, "title": {"text": "Adjusted pupil size (mm)", "fontSize": 29, "fontWeight": "normal", "anchor": "middle", "offset": 10, "color": "#000000"}, "view": {"fill": "#f2f2f2", "stroke": "#333333", "strokeWidth": 1.2}, "data": {"values": [{"lab": "Single-item"}]}, "mark": {"type": "text", "align": "left", "baseline": "middle", "fontSize": 25.5, "color": "#1a1a1a"}, "encoding": {"text": {"field": "lab"}, "x": {"value": 7}, "y": {"value": 19}}},
    {"width": 391, "height": 206,
     "encoding": {"x": {"field": "b", "type": "quantitative", "scale": {"domain": [0.3, 12.7], "nice": false, "zero": false}, "axis": null}},
     "layer": [
      {"data": {"name": "vl"}, "transform": [{"filter": "datum.t=='S' && datum.k=='dot'"}], "mark": {"type": "rule", "color": "#8c8c8c", "strokeWidth": 1, "strokeDash": [1.5, 2.5]}, "encoding": {"y": {"datum": -0.06, "type": "quantitative", "scale": {"domain": [-0.085, 0.58], "nice": false, "zero": false}}, "y2": {"datum": 0.55}}},
      {"data": {"name": "adj_S"}, "mark": {"type": "errorbar", "ticks": {"size": 9}, "thickness": 1.6}, "encoding": {"y": {"field": "lo", "type": "quantitative", "scale": {"domain": [-0.085, 0.58], "nice": false, "zero": false}, "axis": {"title": null, "values": [-0.06, 0.14, 0.34, 0.54], "labelExpr": "replace(format(datum.value, '.2f'), '\u2212', '-')"}}, "y2": {"field": "hi"}, "color": {"field": "c", "type": "nominal", "title": "Condition", "scale": {"domain": ["Scan-neutral", "Scan-incongruent", "Neutral", "Incongruent"], "range": ["#3fbcc4", "#f3b5dd", "#2160ad", "#cf4f05"]}}}},
      {"data": {"name": "adj_S"}, "mark": {"type": "line", "strokeWidth": 3.5}, "encoding": {"y": {"field": "v", "type": "quantitative", "scale": {"domain": [-0.085, 0.58], "nice": false, "zero": false}, "axis": {"title": null}}, "color": {"field": "c", "type": "nominal", "title": "Condition", "scale": {"domain": ["Scan-neutral", "Scan-incongruent", "Neutral", "Incongruent"], "range": ["#3fbcc4", "#f3b5dd", "#2160ad", "#cf4f05"]}}}},
      {"data": {"name": "adj_S"}, "mark": {"type": "circle", "size": 180, "opacity": 1}, "encoding": {"y": {"field": "v", "type": "quantitative", "scale": {"domain": [-0.085, 0.58], "nice": false, "zero": false}, "axis": {"title": null}}, "color": {"field": "c", "type": "nominal", "title": "Condition", "scale": {"domain": ["Scan-neutral", "Scan-incongruent", "Neutral", "Incongruent"], "range": ["#3fbcc4", "#f3b5dd", "#2160ad", "#cf4f05"]}}}}
     ]}
   ], "spacing": 0},
   {"vconcat": [
    {"width": 398, "height": 38, "title": {"text": "Dwell time (ms)", "fontSize": 29, "fontWeight": "normal", "anchor": "middle", "offset": 10, "color": "#000000"}, "view": {"fill": "#f2f2f2", "stroke": "#333333", "strokeWidth": 1.2}, "data": {"values": [{"lab": "Single-item"}]}, "mark": {"type": "text", "align": "left", "baseline": "middle", "fontSize": 25.5, "color": "#1a1a1a"}, "encoding": {"text": {"field": "lab"}, "x": {"value": 7}, "y": {"value": 19}}},
    {"width": 398, "height": 206,
     "encoding": {"x": {"field": "b", "type": "quantitative", "scale": {"domain": [0.3, 12.7], "nice": false, "zero": false}, "axis": null}},
     "layer": [
      {"data": {"name": "vl"}, "transform": [{"filter": "datum.t=='S' && datum.k=='dot'"}], "mark": {"type": "rule", "color": "#8c8c8c", "strokeWidth": 1, "strokeDash": [1.5, 2.5]}, "encoding": {"y": {"datum": 400, "type": "quantitative", "scale": {"domain": [326, 1974], "nice": false, "zero": false}}, "y2": {"datum": 1895}}},
      {"data": {"name": "dw_S"}, "mark": {"type": "errorbar", "ticks": {"size": 9}, "thickness": 1.6}, "encoding": {"y": {"field": "lo", "type": "quantitative", "scale": {"domain": [326, 1974], "nice": false, "zero": false}, "axis": {"title": null, "values": [400, 700, 1000, 1300, 1600, 1900], "format": "d"}}, "y2": {"field": "hi"}, "color": {"field": "c", "type": "nominal", "title": "Condition", "scale": {"domain": ["Scan-neutral", "Scan-incongruent", "Neutral", "Incongruent"], "range": ["#3fbcc4", "#f3b5dd", "#2160ad", "#cf4f05"]}}}},
      {"data": {"name": "dw_S"}, "mark": {"type": "line", "strokeWidth": 3.5}, "encoding": {"y": {"field": "v", "type": "quantitative", "scale": {"domain": [326, 1974], "nice": false, "zero": false}, "axis": {"title": null}}, "color": {"field": "c", "type": "nominal", "title": "Condition", "scale": {"domain": ["Scan-neutral", "Scan-incongruent", "Neutral", "Incongruent"], "range": ["#3fbcc4", "#f3b5dd", "#2160ad", "#cf4f05"]}}}},
      {"data": {"name": "dw_S"}, "mark": {"type": "circle", "size": 180, "opacity": 1}, "encoding": {"y": {"field": "v", "type": "quantitative", "scale": {"domain": [326, 1974], "nice": false, "zero": false}, "axis": {"title": null}}, "color": {"field": "c", "type": "nominal", "title": "Condition", "scale": {"domain": ["Scan-neutral", "Scan-incongruent", "Neutral", "Incongruent"], "range": ["#3fbcc4", "#f3b5dd", "#2160ad", "#cf4f05"]}}}}
     ]}
   ], "spacing": 0}
  ]}
 ]},
 {"spacing": 23, "hconcat": [
  {"vconcat": [
   {"width": 412, "height": 38, "view": {"fill": "#f2f2f2", "stroke": "#333333", "strokeWidth": 1.2}, "data": {"values": [{"lab": "Dense Multi-item Top-Bottom"}]}, "mark": {"type": "text", "align": "left", "baseline": "middle", "fontSize": 25.5, "color": "#1a1a1a"}, "encoding": {"text": {"field": "lab"}, "x": {"value": 7}, "y": {"value": 19}}},
   {"width": 412, "height": 206,
    "encoding": {"x": {"field": "b", "type": "quantitative", "scale": {"domain": [0.35, 12.65], "nice": false, "zero": false}, "axis": null}},
    "layer": [
     {"data": {"name": "vl"}, "transform": [{"filter": "datum.t=='D' && datum.k=='dot'"}], "mark": {"type": "rule", "color": "#8c8c8c", "strokeWidth": 1, "strokeDash": [1.5, 2.5]}, "encoding": {"y": {"datum": 2.7, "type": "quantitative", "scale": {"domain": [2.636, 3.964], "nice": false, "zero": false}}, "y2": {"datum": 3.9}}},
     {"data": {"name": "vl"}, "transform": [{"filter": "datum.t=='D' && datum.k=='solid'"}], "mark": {"type": "rule", "color": "#7a7a7a", "strokeWidth": 1.3}, "encoding": {"y": {"datum": 2.7, "type": "quantitative", "scale": {"domain": [2.636, 3.964], "nice": false, "zero": false}}, "y2": {"datum": 3.9}}},
     {"data": {"name": "raw_D"}, "mark": {"type": "errorbar", "ticks": {"size": 5}, "thickness": 1.3}, "encoding": {"y": {"field": "lo", "type": "quantitative", "scale": {"domain": [2.636, 3.964], "nice": false, "zero": false}, "axis": {"title": null, "values": [2.7, 3.0, 3.3, 3.6, 3.9], "format": ".1f"}}, "y2": {"field": "hi"}, "color": {"field": "c", "type": "nominal", "title": "Condition", "scale": {"domain": ["Scan-neutral", "Scan-incongruent", "Neutral", "Incongruent"], "range": ["#3fbcc4", "#f3b5dd", "#2160ad", "#cf4f05"]}}}},
     {"data": {"name": "raw_D"}, "mark": {"type": "line", "strokeWidth": 3.5}, "encoding": {"y": {"field": "v", "type": "quantitative", "scale": {"domain": [2.636, 3.964], "nice": false, "zero": false}, "axis": {"title": null}}, "color": {"field": "c", "type": "nominal", "title": "Condition", "scale": {"domain": ["Scan-neutral", "Scan-incongruent", "Neutral", "Incongruent"], "range": ["#3fbcc4", "#f3b5dd", "#2160ad", "#cf4f05"]}}}},
     {"data": {"name": "raw_D"}, "mark": {"type": "circle", "size": 200, "opacity": 1}, "encoding": {"y": {"field": "v", "type": "quantitative", "scale": {"domain": [2.636, 3.964], "nice": false, "zero": false}, "axis": {"title": null}}, "color": {"field": "c", "type": "nominal", "title": "Condition", "scale": {"domain": ["Scan-neutral", "Scan-incongruent", "Neutral", "Incongruent"], "range": ["#3fbcc4", "#f3b5dd", "#2160ad", "#cf4f05"]}}}}
    ]}
  ], "spacing": 0},
  {"spacing": 17, "hconcat": [
   {"vconcat": [
    {"width": 391, "height": 38, "view": {"fill": "#f2f2f2", "stroke": "#333333", "strokeWidth": 1.2}, "data": {"values": [{"lab": "Dense Multi-item Top-Bottom"}]}, "mark": {"type": "text", "align": "left", "baseline": "middle", "fontSize": 25.5, "color": "#1a1a1a"}, "encoding": {"text": {"field": "lab"}, "x": {"value": 7}, "y": {"value": 19}}},
    {"width": 391, "height": 206,
     "encoding": {"x": {"field": "b", "type": "quantitative", "scale": {"domain": [0.3, 12.7], "nice": false, "zero": false}, "axis": null}},
     "layer": [
      {"data": {"name": "vl"}, "transform": [{"filter": "datum.t=='D' && datum.k=='dot'"}], "mark": {"type": "rule", "color": "#8c8c8c", "strokeWidth": 1, "strokeDash": [1.5, 2.5]}, "encoding": {"y": {"datum": -0.06, "type": "quantitative", "scale": {"domain": [-0.085, 0.58], "nice": false, "zero": false}}, "y2": {"datum": 0.55}}},
      {"data": {"name": "vl"}, "transform": [{"filter": "datum.t=='D' && datum.k=='solid'"}], "mark": {"type": "rule", "color": "#7a7a7a", "strokeWidth": 1.3}, "encoding": {"y": {"datum": -0.06, "type": "quantitative", "scale": {"domain": [-0.085, 0.58], "nice": false, "zero": false}}, "y2": {"datum": 0.55}}},
      {"data": {"name": "adj_D"}, "mark": {"type": "errorbar", "ticks": {"size": 9}, "thickness": 1.6}, "encoding": {"y": {"field": "lo", "type": "quantitative", "scale": {"domain": [-0.085, 0.58], "nice": false, "zero": false}, "axis": {"title": null, "values": [-0.06, 0.14, 0.34, 0.54], "labelExpr": "replace(format(datum.value, '.2f'), '\u2212', '-')"}}, "y2": {"field": "hi"}, "color": {"field": "c", "type": "nominal", "title": "Condition", "scale": {"domain": ["Scan-neutral", "Scan-incongruent", "Neutral", "Incongruent"], "range": ["#3fbcc4", "#f3b5dd", "#2160ad", "#cf4f05"]}}}},
      {"data": {"name": "adj_D"}, "mark": {"type": "line", "strokeWidth": 3.5}, "encoding": {"y": {"field": "v", "type": "quantitative", "scale": {"domain": [-0.085, 0.58], "nice": false, "zero": false}, "axis": {"title": null}}, "color": {"field": "c", "type": "nominal", "title": "Condition", "scale": {"domain": ["Scan-neutral", "Scan-incongruent", "Neutral", "Incongruent"], "range": ["#3fbcc4", "#f3b5dd", "#2160ad", "#cf4f05"]}}}},
      {"data": {"name": "adj_D"}, "mark": {"type": "circle", "size": 180, "opacity": 1}, "encoding": {"y": {"field": "v", "type": "quantitative", "scale": {"domain": [-0.085, 0.58], "nice": false, "zero": false}, "axis": {"title": null}}, "color": {"field": "c", "type": "nominal", "title": "Condition", "scale": {"domain": ["Scan-neutral", "Scan-incongruent", "Neutral", "Incongruent"], "range": ["#3fbcc4", "#f3b5dd", "#2160ad", "#cf4f05"]}}}}
     ]}
   ], "spacing": 0},
   {"vconcat": [
    {"width": 398, "height": 38, "view": {"fill": "#f2f2f2", "stroke": "#333333", "strokeWidth": 1.2}, "data": {"values": [{"lab": "Dense Multi-item Top-Bottom"}]}, "mark": {"type": "text", "align": "left", "baseline": "middle", "fontSize": 25.5, "color": "#1a1a1a"}, "encoding": {"text": {"field": "lab"}, "x": {"value": 7}, "y": {"value": 19}}},
    {"width": 398, "height": 206,
     "encoding": {"x": {"field": "b", "type": "quantitative", "scale": {"domain": [0.3, 12.7], "nice": false, "zero": false}, "axis": null}},
     "layer": [
      {"data": {"name": "vl"}, "transform": [{"filter": "datum.t=='D' && datum.k=='dot'"}], "mark": {"type": "rule", "color": "#8c8c8c", "strokeWidth": 1, "strokeDash": [1.5, 2.5]}, "encoding": {"y": {"datum": 400, "type": "quantitative", "scale": {"domain": [326, 1974], "nice": false, "zero": false}}, "y2": {"datum": 1895}}},
      {"data": {"name": "vl"}, "transform": [{"filter": "datum.t=='D' && datum.k=='solid'"}], "mark": {"type": "rule", "color": "#7a7a7a", "strokeWidth": 1.3}, "encoding": {"y": {"datum": 400, "type": "quantitative", "scale": {"domain": [326, 1974], "nice": false, "zero": false}}, "y2": {"datum": 1895}}},
      {"data": {"name": "dw_D"}, "mark": {"type": "errorbar", "ticks": {"size": 9}, "thickness": 1.6}, "encoding": {"y": {"field": "lo", "type": "quantitative", "scale": {"domain": [326, 1974], "nice": false, "zero": false}, "axis": {"title": null, "values": [400, 700, 1000, 1300, 1600, 1900], "format": "d"}}, "y2": {"field": "hi"}, "color": {"field": "c", "type": "nominal", "title": "Condition", "scale": {"domain": ["Scan-neutral", "Scan-incongruent", "Neutral", "Incongruent"], "range": ["#3fbcc4", "#f3b5dd", "#2160ad", "#cf4f05"]}}}},
      {"data": {"name": "dw_D"}, "mark": {"type": "line", "strokeWidth": 3.5}, "encoding": {"y": {"field": "v", "type": "quantitative", "scale": {"domain": [326, 1974], "nice": false, "zero": false}, "axis": {"title": null}}, "color": {"field": "c", "type": "nominal", "title": "Condition", "scale": {"domain": ["Scan-neutral", "Scan-incongruent", "Neutral", "Incongruent"], "range": ["#3fbcc4", "#f3b5dd", "#2160ad", "#cf4f05"]}}}},
      {"data": {"name": "dw_D"}, "mark": {"type": "circle", "size": 180, "opacity": 1}, "encoding": {"y": {"field": "v", "type": "quantitative", "scale": {"domain": [326, 1974], "nice": false, "zero": false}, "axis": {"title": null}}, "color": {"field": "c", "type": "nominal", "title": "Condition", "scale": {"domain": ["Scan-neutral", "Scan-incongruent", "Neutral", "Incongruent"], "range": ["#3fbcc4", "#f3b5dd", "#2160ad", "#cf4f05"]}}}}
     ]}
   ], "spacing": 0}
  ]}
 ]},
 {"spacing": 23, "hconcat": [
  {"vconcat": [
   {"width": 412, "height": 38, "view": {"fill": "#f2f2f2", "stroke": "#333333", "strokeWidth": 1.2}, "data": {"values": [{"lab": "Sparse Multi-item Top-Bottom"}]}, "mark": {"type": "text", "align": "left", "baseline": "middle", "fontSize": 25.5, "color": "#1a1a1a"}, "encoding": {"text": {"field": "lab"}, "x": {"value": 7}, "y": {"value": 19}}},
   {"width": 412, "height": 206,
    "encoding": {"x": {"field": "b", "type": "quantitative", "scale": {"domain": [0.35, 12.65], "nice": false, "zero": false}, "axis": null}},
    "layer": [
     {"data": {"name": "vl"}, "transform": [{"filter": "datum.t=='ST'"}], "mark": {"type": "rule", "color": "#7a7a7a", "strokeWidth": 1.3}, "encoding": {"y": {"datum": 2.7, "type": "quantitative", "scale": {"domain": [2.636, 3.964], "nice": false, "zero": false}}, "y2": {"datum": 3.9}}},
     {"data": {"name": "raw_ST"}, "mark": {"type": "errorbar", "ticks": {"size": 5}, "thickness": 1.3}, "encoding": {"y": {"field": "lo", "type": "quantitative", "scale": {"domain": [2.636, 3.964], "nice": false, "zero": false}, "axis": {"title": null, "values": [2.7, 3.0, 3.3, 3.6, 3.9], "format": ".1f"}}, "y2": {"field": "hi"}, "color": {"field": "c", "type": "nominal", "title": "Condition", "scale": {"domain": ["Scan-neutral", "Scan-incongruent", "Neutral", "Incongruent"], "range": ["#3fbcc4", "#f3b5dd", "#2160ad", "#cf4f05"]}}}},
     {"data": {"name": "raw_ST"}, "mark": {"type": "line", "strokeWidth": 3.5}, "encoding": {"y": {"field": "v", "type": "quantitative", "scale": {"domain": [2.636, 3.964], "nice": false, "zero": false}, "axis": {"title": null}}, "color": {"field": "c", "type": "nominal", "title": "Condition", "scale": {"domain": ["Scan-neutral", "Scan-incongruent", "Neutral", "Incongruent"], "range": ["#3fbcc4", "#f3b5dd", "#2160ad", "#cf4f05"]}}}},
     {"data": {"name": "raw_ST"}, "mark": {"type": "circle", "size": 200, "opacity": 1}, "encoding": {"y": {"field": "v", "type": "quantitative", "scale": {"domain": [2.636, 3.964], "nice": false, "zero": false}, "axis": {"title": null}}, "color": {"field": "c", "type": "nominal", "title": "Condition", "scale": {"domain": ["Scan-neutral", "Scan-incongruent", "Neutral", "Incongruent"], "range": ["#3fbcc4", "#f3b5dd", "#2160ad", "#cf4f05"]}}}}
    ]}
  ], "spacing": 0},
  {"spacing": 17, "hconcat": [
   {"vconcat": [
    {"width": 391, "height": 38, "view": {"fill": "#f2f2f2", "stroke": "#333333", "strokeWidth": 1.2}, "data": {"values": [{"lab": "Sparse Multi-item Top-Bottom"}]}, "mark": {"type": "text", "align": "left", "baseline": "middle", "fontSize": 25.5, "color": "#1a1a1a"}, "encoding": {"text": {"field": "lab"}, "x": {"value": 7}, "y": {"value": 19}}},
    {"width": 391, "height": 206,
     "encoding": {"x": {"field": "b", "type": "quantitative", "scale": {"domain": [0.3, 12.7], "nice": false, "zero": false}, "axis": null}},
     "layer": [
      {"data": {"name": "vl"}, "transform": [{"filter": "datum.t=='ST'"}], "mark": {"type": "rule", "color": "#7a7a7a", "strokeWidth": 1.3}, "encoding": {"y": {"datum": -0.06, "type": "quantitative", "scale": {"domain": [-0.085, 0.58], "nice": false, "zero": false}}, "y2": {"datum": 0.55}}},
      {"data": {"name": "adj_ST"}, "mark": {"type": "errorbar", "ticks": {"size": 9}, "thickness": 1.6}, "encoding": {"y": {"field": "lo", "type": "quantitative", "scale": {"domain": [-0.085, 0.58], "nice": false, "zero": false}, "axis": {"title": null, "values": [-0.06, 0.14, 0.34, 0.54], "labelExpr": "replace(format(datum.value, '.2f'), '\u2212', '-')"}}, "y2": {"field": "hi"}, "color": {"field": "c", "type": "nominal", "title": "Condition", "scale": {"domain": ["Scan-neutral", "Scan-incongruent", "Neutral", "Incongruent"], "range": ["#3fbcc4", "#f3b5dd", "#2160ad", "#cf4f05"]}}}},
      {"data": {"name": "adj_ST"}, "mark": {"type": "line", "strokeWidth": 3.5}, "encoding": {"y": {"field": "v", "type": "quantitative", "scale": {"domain": [-0.085, 0.58], "nice": false, "zero": false}, "axis": {"title": null}}, "color": {"field": "c", "type": "nominal", "title": "Condition", "scale": {"domain": ["Scan-neutral", "Scan-incongruent", "Neutral", "Incongruent"], "range": ["#3fbcc4", "#f3b5dd", "#2160ad", "#cf4f05"]}}}},
      {"data": {"name": "adj_ST"}, "mark": {"type": "circle", "size": 180, "opacity": 1}, "encoding": {"y": {"field": "v", "type": "quantitative", "scale": {"domain": [-0.085, 0.58], "nice": false, "zero": false}, "axis": {"title": null}}, "color": {"field": "c", "type": "nominal", "title": "Condition", "scale": {"domain": ["Scan-neutral", "Scan-incongruent", "Neutral", "Incongruent"], "range": ["#3fbcc4", "#f3b5dd", "#2160ad", "#cf4f05"]}}}}
     ]}
   ], "spacing": 0},
   {"vconcat": [
    {"width": 398, "height": 38, "view": {"fill": "#f2f2f2", "stroke": "#333333", "strokeWidth": 1.2}, "data": {"values": [{"lab": "Sparse Multi-item Top-Bottom"}]}, "mark": {"type": "text", "align": "left", "baseline": "middle", "fontSize": 25.5, "color": "#1a1a1a"}, "encoding": {"text": {"field": "lab"}, "x": {"value": 7}, "y": {"value": 19}}},
    {"width": 398, "height": 206,
     "encoding": {"x": {"field": "b", "type": "quantitative", "scale": {"domain": [0.3, 12.7], "nice": false, "zero": false}, "axis": null}},
     "layer": [
      {"data": {"name": "vl"}, "transform": [{"filter": "datum.t=='ST'"}], "mark": {"type": "rule", "color": "#7a7a7a", "strokeWidth": 1.3}, "encoding": {"y": {"datum": 400, "type": "quantitative", "scale": {"domain": [326, 1974], "nice": false, "zero": false}}, "y2": {"datum": 1895}}},
      {"data": {"name": "dw_ST"}, "mark": {"type": "errorbar", "ticks": {"size": 9}, "thickness": 1.6}, "encoding": {"y": {"field": "lo", "type": "quantitative", "scale": {"domain": [326, 1974], "nice": false, "zero": false}, "axis": {"title": null, "values": [400, 700, 1000, 1300, 1600, 1900], "format": "d"}}, "y2": {"field": "hi"}, "color": {"field": "c", "type": "nominal", "title": "Condition", "scale": {"domain": ["Scan-neutral", "Scan-incongruent", "Neutral", "Incongruent"], "range": ["#3fbcc4", "#f3b5dd", "#2160ad", "#cf4f05"]}}}},
      {"data": {"name": "dw_ST"}, "mark": {"type": "line", "strokeWidth": 3.5}, "encoding": {"y": {"field": "v", "type": "quantitative", "scale": {"domain": [326, 1974], "nice": false, "zero": false}, "axis": {"title": null}}, "color": {"field": "c", "type": "nominal", "title": "Condition", "scale": {"domain": ["Scan-neutral", "Scan-incongruent", "Neutral", "Incongruent"], "range": ["#3fbcc4", "#f3b5dd", "#2160ad", "#cf4f05"]}}}},
      {"data": {"name": "dw_ST"}, "mark": {"type": "circle", "size": 180, "opacity": 1}, "encoding": {"y": {"field": "v", "type": "quantitative", "scale": {"domain": [326, 1974], "nice": false, "zero": false}, "axis": {"title": null}}, "color": {"field": "c", "type": "nominal", "title": "Condition", "scale": {"domain": ["Scan-neutral", "Scan-incongruent", "Neutral", "Incongruent"], "range": ["#3fbcc4", "#f3b5dd", "#2160ad", "#cf4f05"]}}}}
     ]}
   ], "spacing": 0}
  ]}
 ]},
 {"spacing": 23, "hconcat": [
  {"vconcat": [
   {"width": 412, "height": 38, "view": {"fill": "#f2f2f2", "stroke": "#333333", "strokeWidth": 1.2}, "data": {"values": [{"lab": "Sparse Multi-item Left-Right"}]}, "mark": {"type": "text", "align": "left", "baseline": "middle", "fontSize": 25.5, "color": "#1a1a1a"}, "encoding": {"text": {"field": "lab"}, "x": {"value": 7}, "y": {"value": 19}}},
   {"width": 412, "height": 206,
    "encoding": {"x": {"field": "b", "type": "quantitative", "scale": {"domain": [0.35, 12.65], "nice": false, "zero": false}, "axis": {"values": [1,2,3,4,5,6,7,8,9,10,11,12], "title": "Block (set of 5 items)", "titlePadding": 7}}},
    "layer": [
     {"data": {"name": "vl"}, "transform": [{"filter": "datum.t=='SL'"}], "mark": {"type": "rule", "color": "#7a7a7a", "strokeWidth": 1.3}, "encoding": {"y": {"datum": 2.7, "type": "quantitative", "scale": {"domain": [2.636, 3.964], "nice": false, "zero": false}}, "y2": {"datum": 3.9}}},
     {"data": {"name": "raw_SL"}, "mark": {"type": "errorbar", "ticks": {"size": 5}, "thickness": 1.3}, "encoding": {"y": {"field": "lo", "type": "quantitative", "scale": {"domain": [2.636, 3.964], "nice": false, "zero": false}, "axis": {"title": null, "values": [2.7, 3.0, 3.3, 3.6, 3.9], "format": ".1f"}}, "y2": {"field": "hi"}, "color": {"field": "c", "type": "nominal", "title": "Condition", "scale": {"domain": ["Scan-neutral", "Scan-incongruent", "Neutral", "Incongruent"], "range": ["#3fbcc4", "#f3b5dd", "#2160ad", "#cf4f05"]}}}},
     {"data": {"name": "raw_SL"}, "mark": {"type": "line", "strokeWidth": 3.5}, "encoding": {"y": {"field": "v", "type": "quantitative", "scale": {"domain": [2.636, 3.964], "nice": false, "zero": false}, "axis": {"title": null}}, "color": {"field": "c", "type": "nominal", "title": "Condition", "scale": {"domain": ["Scan-neutral", "Scan-incongruent", "Neutral", "Incongruent"], "range": ["#3fbcc4", "#f3b5dd", "#2160ad", "#cf4f05"]}}}},
     {"data": {"name": "raw_SL"}, "mark": {"type": "circle", "size": 200, "opacity": 1}, "encoding": {"y": {"field": "v", "type": "quantitative", "scale": {"domain": [2.636, 3.964], "nice": false, "zero": false}, "axis": {"title": null}}, "color": {"field": "c", "type": "nominal", "title": "Condition", "scale": {"domain": ["Scan-neutral", "Scan-incongruent", "Neutral", "Incongruent"], "range": ["#3fbcc4", "#f3b5dd", "#2160ad", "#cf4f05"]}}}}
    ]}
  ], "spacing": 0},
  {"spacing": 17, "hconcat": [
   {"vconcat": [
    {"width": 391, "height": 38, "view": {"fill": "#f2f2f2", "stroke": "#333333", "strokeWidth": 1.2}, "data": {"values": [{"lab": "Sparse Multi-item Left-Right"}]}, "mark": {"type": "text", "align": "left", "baseline": "middle", "fontSize": 25.5, "color": "#1a1a1a"}, "encoding": {"text": {"field": "lab"}, "x": {"value": 7}, "y": {"value": 19}}},
    {"width": 391, "height": 206,
     "encoding": {"x": {"field": "b", "type": "quantitative", "scale": {"domain": [0.3, 12.7], "nice": false, "zero": false}, "axis": {"values": [1,2,3,4,5,6,7,8,9,10,11,12], "title": "Block (set of 5 items)", "titlePadding": 7}}},
     "layer": [
      {"data": {"name": "vl"}, "transform": [{"filter": "datum.t=='SL'"}], "mark": {"type": "rule", "color": "#7a7a7a", "strokeWidth": 1.3}, "encoding": {"y": {"datum": -0.06, "type": "quantitative", "scale": {"domain": [-0.085, 0.58], "nice": false, "zero": false}}, "y2": {"datum": 0.55}}},
      {"data": {"name": "adj_SL"}, "mark": {"type": "errorbar", "ticks": {"size": 9}, "thickness": 1.6}, "encoding": {"y": {"field": "lo", "type": "quantitative", "scale": {"domain": [-0.085, 0.58], "nice": false, "zero": false}, "axis": {"title": null, "values": [-0.06, 0.14, 0.34, 0.54], "labelExpr": "replace(format(datum.value, '.2f'), '\u2212', '-')"}}, "y2": {"field": "hi"}, "color": {"field": "c", "type": "nominal", "title": "Condition", "scale": {"domain": ["Scan-neutral", "Scan-incongruent", "Neutral", "Incongruent"], "range": ["#3fbcc4", "#f3b5dd", "#2160ad", "#cf4f05"]}}}},
      {"data": {"name": "adj_SL"}, "mark": {"type": "line", "strokeWidth": 3.5}, "encoding": {"y": {"field": "v", "type": "quantitative", "scale": {"domain": [-0.085, 0.58], "nice": false, "zero": false}, "axis": {"title": null}}, "color": {"field": "c", "type": "nominal", "title": "Condition", "scale": {"domain": ["Scan-neutral", "Scan-incongruent", "Neutral", "Incongruent"], "range": ["#3fbcc4", "#f3b5dd", "#2160ad", "#cf4f05"]}}}},
      {"data": {"name": "adj_SL"}, "mark": {"type": "circle", "size": 180, "opacity": 1}, "encoding": {"y": {"field": "v", "type": "quantitative", "scale": {"domain": [-0.085, 0.58], "nice": false, "zero": false}, "axis": {"title": null}}, "color": {"field": "c", "type": "nominal", "title": "Condition", "scale": {"domain": ["Scan-neutral", "Scan-incongruent", "Neutral", "Incongruent"], "range": ["#3fbcc4", "#f3b5dd", "#2160ad", "#cf4f05"]}}}}
     ]}
   ], "spacing": 0},
   {"vconcat": [
    {"width": 398, "height": 38, "view": {"fill": "#f2f2f2", "stroke": "#333333", "strokeWidth": 1.2}, "data": {"values": [{"lab": "Sparse Multi-item Left-Right"}]}, "mark": {"type": "text", "align": "left", "baseline": "middle", "fontSize": 25.5, "color": "#1a1a1a"}, "encoding": {"text": {"field": "lab"}, "x": {"value": 7}, "y": {"value": 19}}},
    {"width": 398, "height": 206,
     "encoding": {"x": {"field": "b", "type": "quantitative", "scale": {"domain": [0.3, 12.7], "nice": false, "zero": false}, "axis": {"values": [1,2,3,4,5,6,7,8,9,10,11,12], "title": "Block (set of 5 items)", "titlePadding": 7}}},
     "layer": [
      {"data": {"name": "vl"}, "transform": [{"filter": "datum.t=='SL'"}], "mark": {"type": "rule", "color": "#7a7a7a", "strokeWidth": 1.3}, "encoding": {"y": {"datum": 400, "type": "quantitative", "scale": {"domain": [326, 1974], "nice": false, "zero": false}}, "y2": {"datum": 1895}}},
      {"data": {"name": "dw_SL"}, "mark": {"type": "errorbar", "ticks": {"size": 9}, "thickness": 1.6}, "encoding": {"y": {"field": "lo", "type": "quantitative", "scale": {"domain": [326, 1974], "nice": false, "zero": false}, "axis": {"title": null, "values": [400, 700, 1000, 1300, 1600, 1900], "format": "d"}}, "y2": {"field": "hi"}, "color": {"field": "c", "type": "nominal", "title": "Condition", "scale": {"domain": ["Scan-neutral", "Scan-incongruent", "Neutral", "Incongruent"], "range": ["#3fbcc4", "#f3b5dd", "#2160ad", "#cf4f05"]}}}},
      {"data": {"name": "dw_SL"}, "mark": {"type": "line", "strokeWidth": 3.5}, "encoding": {"y": {"field": "v", "type": "quantitative", "scale": {"domain": [326, 1974], "nice": false, "zero": false}, "axis": {"title": null}}, "color": {"field": "c", "type": "nominal", "title": "Condition", "scale": {"domain": ["Scan-neutral", "Scan-incongruent", "Neutral", "Incongruent"], "range": ["#3fbcc4", "#f3b5dd", "#2160ad", "#cf4f05"]}}}},
      {"data": {"name": "dw_SL"}, "mark": {"type": "circle", "size": 180, "opacity": 1}, "encoding": {"y": {"field": "v", "type": "quantitative", "scale": {"domain": [326, 1974], "nice": false, "zero": false}, "axis": {"title": null}}, "color": {"field": "c", "type": "nominal", "title": "Condition", "scale": {"domain": ["Scan-neutral", "Scan-incongruent", "Neutral", "Incongruent"], "range": ["#3fbcc4", "#f3b5dd", "#2160ad", "#cf4f05"]}}}}
     ]}
   ], "spacing": 0}
  ]}
 ]}
]
}
